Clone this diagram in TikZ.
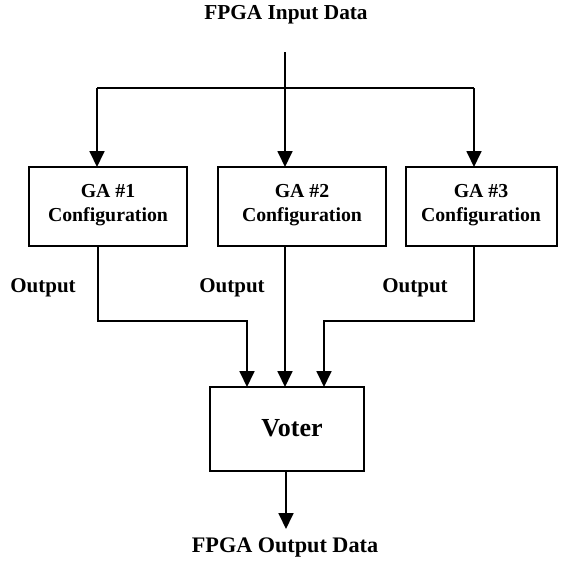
\documentclass[tikz,border=0pt]{standalone}
\usepackage{fontspec}
\setmainfont{Liberation Serif}
\usetikzlibrary{arrows.meta}
\begin{document}
\begin{tikzpicture}[x=1pt,y=-1pt,
  txt/.style={font=\fontsize{19.8}{24}\selectfont\bfseries, inner sep=0pt, align=center},
  lbl/.style={font=\fontsize{21}{24}\selectfont\bfseries, inner sep=0pt},
  blk/.style={draw, line width=1.8pt},
  conn/.style={line width=1.8pt},
  arr/.style={conn, -{Triangle[width=15pt,length=16pt]}}]
\useasboundingbox (0,0) rectangle (562,563);
% boxes
\draw[blk] (29,167) rectangle (187,246);
\draw[blk] (218,167) rectangle (386,246);
\draw[blk] (406,167) rectangle (557,246);
\draw[blk] (210,387) rectangle (364,471);
\node[txt] (t1) at (108,205) {GA \#1\\Configuration};
\node[txt] (t2) at (302,205) {GA \#2\\Configuration};
\node[txt] (t3) at (481,205) {GA \#3\\Configuration};
\node[txt, font=\fontsize{26}{30}\selectfont\bfseries] (vt) at (292,428) {Voter};
\coordinate (g1t) at (97,167);
\coordinate (g2t) at (285,167);
\coordinate (g3t) at (474,167);
\coordinate (g1b) at (98,246);
\coordinate (g2b) at (285,246);
\coordinate (g3b) at (474,246);
\coordinate (v1) at (247,387);
\coordinate (v2) at (285,387);
\coordinate (v3) at (324,387);
\coordinate (vb) at (286,471);
\coordinate (vo) at (286,529);
\coordinate (top) at (285,52);
\node[lbl, font=\fontsize{21.3}{24}\selectfont\bfseries] (in) at (286,15) {FPGA Input Data};
\node[lbl, font=\fontsize{22.2}{24}\selectfont\bfseries] (out) at (285,548) {FPGA Output Data};
\node[lbl] (o1) at (43,288) {Output};
\node[lbl] (o2) at (232,288) {Output};
\node[lbl] (o3) at (415,288) {Output};
% input connectors
\draw[arr] (top) -- (g2t);
\draw[conn] (97,88) -- (474,88);
\draw[arr] (97,88) -- (g1t);
\draw[arr] (474,88) -- (g3t);
% output connectors
\draw[arr] (g1b) |- (247,321) -- (v1);
\draw[arr] (g2b) -- (v2);
\draw[arr] (g3b) |- (324,321) -- (v3);
\draw[arr] (vb) -- (vo);
\end{tikzpicture}
\end{document}
